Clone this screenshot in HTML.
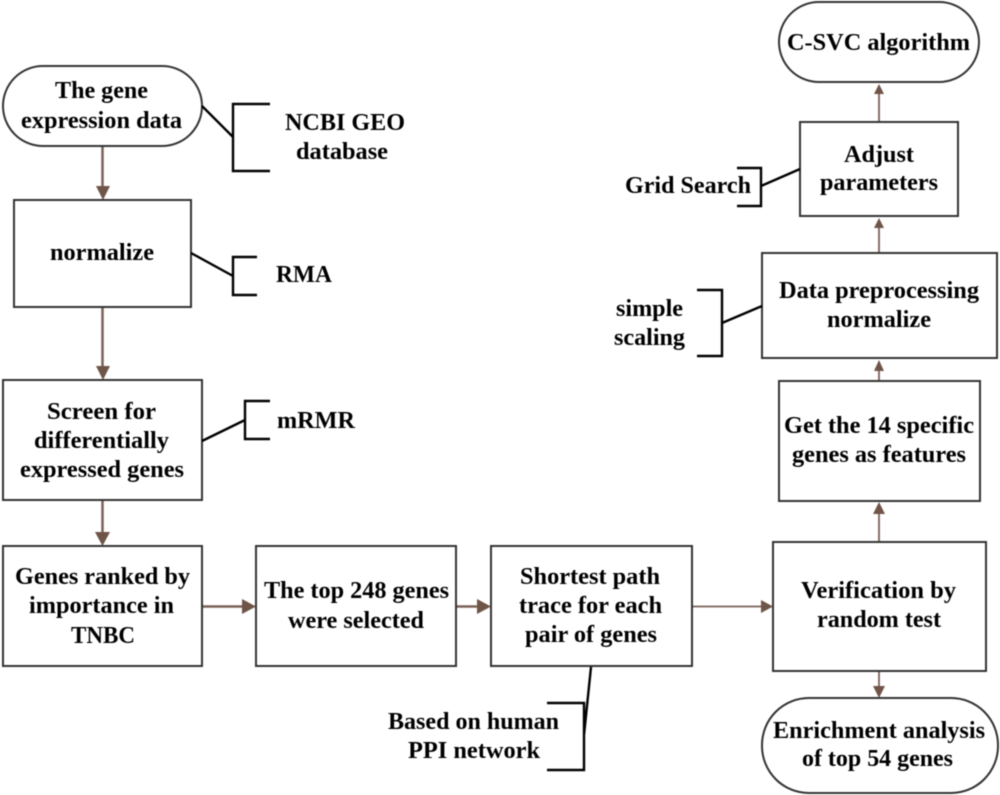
<!DOCTYPE html>
<html>
<head>
<meta charset="utf-8">
<style>
html,body{margin:0;padding:0;background:#fff;width:1000px;height:795px;overflow:hidden}
svg{display:block;filter:blur(0.5px)}
text{font-family:"Liberation Serif",serif;font-weight:bold;font-size:24px;fill:#000}
.b{fill:#fff;stroke:#333;stroke-width:2}
.k{fill:none;stroke:#000;stroke-width:2.4}
.a{stroke:#7b6157;fill:none}
.h{fill:#6f5548;stroke:none}
</style>
</head>
<body>
<svg width="1000" height="795" viewBox="0 0 1000 795" xmlns="http://www.w3.org/2000/svg">
<rect width="1000" height="795" fill="#fff"/>

<!-- connectors -->
<path class="a" stroke-width="2.5" d="M102.500 146V187"/><polygon class="h" points="96,186 110,186 103,200"/>
<path class="a" stroke-width="2.5" d="M102.500 307V367"/><polygon class="h" points="96,366 110,366 103,380"/>
<path class="a" stroke-width="2.5" d="M102.500 500V533"/><polygon class="h" points="95,532 110,532 102.500,546"/>
<path class="a" stroke-width="2.500" d="M202 606.500H243"/><polygon class="h" points="242,599 242,614 256,606.500"/>
<path class="a" stroke-width="2.500" d="M456 606.500H478"/><polygon class="h" points="477,599 477,614 491,606.500"/>
<path class="a" stroke-width="1.800" d="M692 606.500H762"/><polygon class="h" points="761,600 761,613 773,606.500"/>
<path class="a" stroke-width="1.800" d="M879 671V688"/><polygon class="h" points="873,686 885,686 879,698"/>
<path class="a" stroke-width="1.800" d="M879 542V512"/><polygon class="h" points="873,514 885,514 879,502"/>
<path class="a" stroke-width="1.800" d="M879 380V369"/><polygon class="h" points="874,371 884,371 879,360"/>
<path class="a" stroke-width="1.800" d="M879 253V227"/><polygon class="h" points="874,228 884,228 879,218"/>
<path class="a" stroke-width="1.800" d="M879 122V93"/><polygon class="h" points="874,94 884,94 879,84"/>

<!-- shapes -->
<rect class="b" x="3" y="66" width="199" height="80" rx="40" ry="40"/>
<rect class="b" x="14" y="200" width="177" height="107"/>
<rect class="b" x="3" y="380" width="199" height="120"/>
<rect class="b" x="3" y="546" width="199" height="120"/>
<rect class="b" x="256" y="546" width="200" height="120"/>
<rect class="b" x="491" y="546" width="201" height="120"/>
<rect class="b" x="773" y="542" width="213" height="129"/>
<rect class="b" x="762" y="698" width="236" height="95" rx="47" ry="47"/>
<rect class="b" x="779" y="381" width="201" height="120"/>
<rect class="b" x="762" y="253" width="235" height="105"/>
<rect class="b" x="800" y="122" width="158" height="94"/>
<rect class="b" x="779" y="2" width="200" height="80" rx="40" ry="40"/>

<!-- brackets -->
<path class="k" d="M270 104H233V171H270M202 106L233 137"/>
<path class="k" d="M257 257H233V295H257M191 253L233 276"/>
<path class="k" d="M270 401H245V439H270M202 441L245 420"/>
<path class="k" d="M547 703H584V770H547M591 667L584 735"/>
<path class="k" d="M737 168H761V206H737M761 186L800 169"/>
<path class="k" d="M697 290H722V356H697M722 323L762 306"/>

<!-- labels -->
<text x="55" y="98" textLength="93" lengthAdjust="spacingAndGlyphs">The gene</text>
<text x="21" y="128" textLength="161" lengthAdjust="spacingAndGlyphs">expression data</text>
<text x="285" y="130" textLength="120" lengthAdjust="spacingAndGlyphs">NCBI GEO</text>
<text x="296" y="159" textLength="92" lengthAdjust="spacingAndGlyphs">database</text>
<text x="50" y="260" textLength="104" lengthAdjust="spacingAndGlyphs">normalize</text>
<text x="276" y="282" textLength="56" lengthAdjust="spacingAndGlyphs">RMA</text>
<text x="47" y="419" textLength="109" lengthAdjust="spacingAndGlyphs">Screen for</text>
<text x="34" y="448" textLength="135" lengthAdjust="spacingAndGlyphs">differentially</text>
<text x="20" y="477" textLength="164" lengthAdjust="spacingAndGlyphs">expressed genes</text>
<text x="277" y="428" textLength="78" lengthAdjust="spacingAndGlyphs">mRMR</text>
<text x="15" y="584" textLength="175" lengthAdjust="spacingAndGlyphs">Genes ranked by</text>
<text x="29" y="613" textLength="145" lengthAdjust="spacingAndGlyphs">importance in</text>
<text x="71" y="643" textLength="64" lengthAdjust="spacingAndGlyphs">TNBC</text>
<text x="264" y="598" textLength="185" lengthAdjust="spacingAndGlyphs">The top 248 genes</text>
<text x="288" y="628" textLength="136" lengthAdjust="spacingAndGlyphs">were selected</text>
<text x="520" y="584" textLength="140" lengthAdjust="spacingAndGlyphs">Shortest path</text>
<text x="519" y="613" textLength="143" lengthAdjust="spacingAndGlyphs">trace for each</text>
<text x="525" y="642" textLength="132" lengthAdjust="spacingAndGlyphs">pair of genes</text>
<text x="801" y="598" textLength="155" lengthAdjust="spacingAndGlyphs">Verification by</text>
<text x="817" y="627" textLength="124" lengthAdjust="spacingAndGlyphs">random test</text>
<text x="388" y="729" textLength="171" lengthAdjust="spacingAndGlyphs">Based on human</text>
<text x="408" y="758" textLength="132" lengthAdjust="spacingAndGlyphs">PPI network</text>
<text x="773" y="738" textLength="212" lengthAdjust="spacingAndGlyphs">Enrichment analysis</text>
<text x="802" y="766" textLength="151" lengthAdjust="spacingAndGlyphs">of top 54 genes</text>
<text x="784" y="433" textLength="190" lengthAdjust="spacingAndGlyphs">Get the 14 specific</text>
<text x="792" y="462" textLength="174" lengthAdjust="spacingAndGlyphs">genes as features</text>
<text x="779" y="298" textLength="200" lengthAdjust="spacingAndGlyphs">Data preprocessing</text>
<text x="827" y="327" textLength="104" lengthAdjust="spacingAndGlyphs">normalize</text>
<text x="844" y="162" textLength="70" lengthAdjust="spacingAndGlyphs">Adjust</text>
<text x="820" y="190" textLength="118" lengthAdjust="spacingAndGlyphs">parameters</text>
<text x="787" y="50" textLength="183" lengthAdjust="spacingAndGlyphs">C-SVC algorithm</text>
<text x="625" y="193" textLength="126" lengthAdjust="spacingAndGlyphs">Grid Search</text>
<text x="616" y="316" textLength="67" lengthAdjust="spacingAndGlyphs">simple</text>
<text x="614" y="345" textLength="71" lengthAdjust="spacingAndGlyphs">scaling</text>
</svg>
</body>
</html>
